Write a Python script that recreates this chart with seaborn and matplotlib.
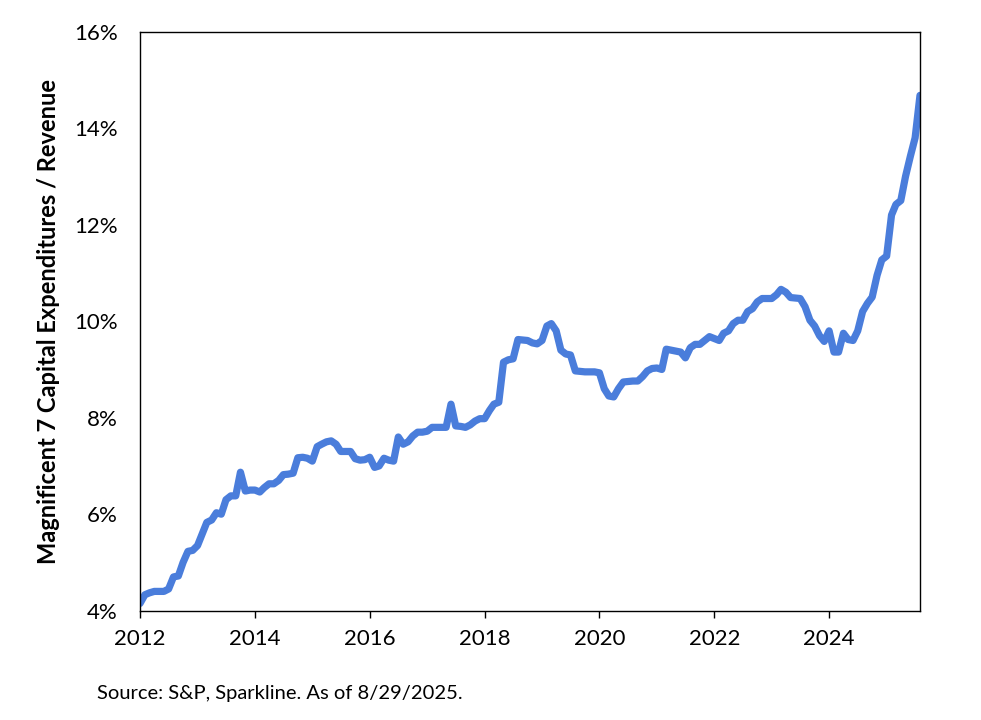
import pandas as pd
import seaborn as sns
import matplotlib.pyplot as plt
import matplotlib.dates as mdates
from matplotlib.ticker import FuncFormatter

# Monthly series, Jan 2012 .. Aug 2025 (percent)
start_month = '2012-01-01'
end_month = '2025-08-01'
capex_pct = [
    4.15, 4.33, 4.37, 4.40, 4.40, 4.40, 4.45, 4.70, 4.72, 5.00, 5.23, 5.25,
    5.35, 5.60, 5.83, 5.88, 6.03, 6.00, 6.30, 6.38, 6.38, 6.87, 6.48, 6.50,
    6.50, 6.46, 6.55, 6.63, 6.63, 6.70, 6.82, 6.83, 6.85, 7.17, 7.18, 7.16,
    7.10, 7.40, 7.45, 7.50, 7.52, 7.45, 7.30, 7.30, 7.30, 7.15, 7.12, 7.13,
    7.18, 6.97, 7.00, 7.16, 7.12, 7.10, 7.60, 7.45, 7.50, 7.62, 7.70, 7.70,
    7.72, 7.80, 7.80, 7.80, 7.80, 8.28, 7.83, 7.82, 7.80, 7.85, 7.93, 7.98,
    7.98, 8.15, 8.28, 8.32, 9.15, 9.20, 9.22, 9.62, 9.61, 9.60, 9.55, 9.53,
    9.60, 9.90, 9.95, 9.80, 9.40, 9.32, 9.30, 8.97, 8.96, 8.95, 8.95, 8.95,
    8.93, 8.60, 8.45, 8.43, 8.60, 8.74, 8.75, 8.76, 8.76, 8.85, 8.97, 9.02,
    9.03, 9.00, 9.42, 9.40, 9.38, 9.36, 9.24, 9.45, 9.52, 9.52, 9.60, 9.68,
    9.64, 9.60, 9.75, 9.80, 9.95, 10.02, 10.02, 10.20, 10.26, 10.40, 10.47, 10.47,
    10.47, 10.55, 10.66, 10.60, 10.49, 10.48, 10.47, 10.30, 10.02, 9.90, 9.70, 9.58,
    9.80, 9.36, 9.36, 9.75, 9.62, 9.60, 9.80, 10.20, 10.37, 10.50, 10.95, 11.27,
    11.35, 12.20, 12.42, 12.50, 13.00, 13.42, 13.80, 14.68,
]

y_ticks = [4, 6, 8, 10, 12, 14, 16]
y_label = 'Magnificent 7 Capital Expenditures / Revenue'
source_note = 'Source: S&P, Sparkline. As of 8/29/2025.'

df = pd.DataFrame({
    'date': pd.date_range(start_month, end_month, freq='MS'),
    'ratio': capex_pct,
})

sns.set_style('white')
plt.rcParams['font.family'] = ['Lato', 'DejaVu Sans']
plt.rcParams['text.color'] = 'black'

fig = plt.figure(figsize=(9.81, 7.2), dpi=100)
ax = fig.add_axes([0.1427, 0.1518, 0.7951, 0.8042])

sns.lineplot(data=df, x='date', y='ratio', ax=ax, color='#4a7ddb', linewidth=5.2)

ax.set_xlim(df['date'].iloc[0], df['date'].iloc[-1])
ax.set_ylim(4, 16)
ax.set_yticks(y_ticks)
ax.yaxis.set_major_formatter(FuncFormatter(lambda v, p: f'{v:.0f}%'))
ax.xaxis.set_major_locator(mdates.YearLocator(2))
ax.xaxis.set_major_formatter(mdates.DateFormatter('%Y'))

ax.tick_params(axis='x', direction='out', length=5, width=1, pad=8,
               labelsize=16, bottom=True, colors='black')
ax.tick_params(axis='y', length=0, pad=16, labelsize=16, colors='black')

for s in ax.spines.values():
    s.set_visible(True)
    s.set_color('black')
    s.set_linewidth(1.0)

ax.set_xlabel('')
ax.set_ylabel(y_label, fontsize=17, fontweight='bold', labelpad=10, color='black')

fig.text(0.099, 0.037, source_note, fontsize=14.5, ha='left', va='center', color='black')

fig.savefig('out.png', dpi=100)
